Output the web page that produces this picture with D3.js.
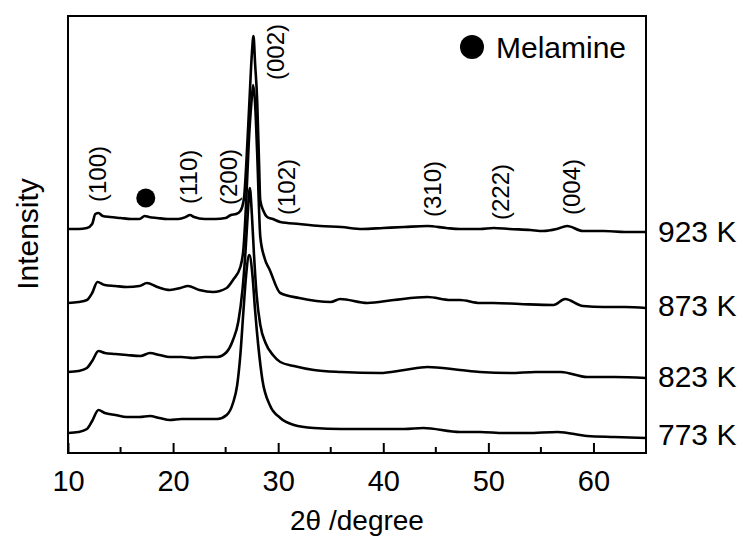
<!DOCTYPE html>
<html>
<head>
<meta charset="utf-8">
<script src="https://cdn.jsdelivr.net/npm/d3@7"></script>
<style>
  body { margin: 0; background: #fff; }
  text { font-family: Arial, "Liberation Sans", sans-serif; fill: #000; }
</style>
</head>
<body>
<div id="chart"></div>
<script>
// 2theta (degree) and intensity (a.u., already stacked)
const theta923 = [10, 11, 11.8, 12.3, 12.6, 12.9, 13.3, 14, 15, 16, 16.8, 17.3, 17.7, 18.5, 19.5, 20.5, 21.2, 21.6, 22, 23, 24, 25, 25.5, 26, 26.4, 26.75, 26.95, 27.27, 27.5, 27.65, 27.8, 28, 28.19, 28.29, 28.6, 28.95, 29.5, 30.2, 32, 34, 36, 38, 40, 42, 44.2, 46, 47.3, 49.2, 50.5, 52, 54, 55.2, 56.5, 57.5, 59, 61, 63, 65];
const int923 = [224, 224, 225, 229, 239, 240, 237, 236, 235, 234, 234, 237, 236, 235, 234, 234, 236, 238, 236, 234, 234, 235, 238, 239, 242, 255, 286, 353, 400, 417, 390, 353, 286, 253, 242, 236, 234, 231, 229, 227, 226, 224, 225, 226, 227, 225, 224, 224, 225, 224, 223, 222, 224, 227, 222, 222, 221, 221];

const theta873 = [10, 11, 11.8, 12.3, 12.8, 13.5, 14.5, 15.6, 16.8, 17.5, 18.5, 19.7, 20.7, 21.4, 22.5, 23.8, 25.1, 25.7, 26.4, 26.7, 26.95, 27.2, 27.45, 27.62, 27.8, 28, 28.3, 28.7, 29.2, 30.2, 32, 35, 35.9, 38.5, 41, 44.2, 46.4, 47.3, 49.2, 50.5, 53, 56.2, 57.3, 59, 61, 63, 65];
const int873 = [150, 151, 153, 160, 171, 168, 167, 166, 167, 170, 166, 163, 165, 167, 163, 161, 165, 173, 186, 205, 250, 310, 350, 368, 350, 300, 216, 195, 183, 160, 155, 151, 154, 150, 153, 156, 153, 153, 150, 150, 149, 148, 154, 147, 146, 146, 145];

const theta823 = [10, 11, 11.8, 12.3, 12.9, 13.5, 14.5, 15.6, 16.9, 17.8, 18.7, 19.7, 20.8, 21.9, 23, 24.2, 25.1, 25.7, 26.2, 26.6, 26.9, 27.1, 27.3, 27.5, 27.7, 27.95, 28.3, 28.8, 29.5, 30.2, 31.5, 33.4, 36, 39.7, 42, 44.2, 47.3, 49.2, 52.1, 54.5, 56.9, 59.4, 62, 65];
const int823 = [81, 82, 85, 92, 102, 100, 99, 98, 97, 100, 98, 96, 96, 95, 96, 96, 101, 113, 131, 163, 203, 238, 265, 238, 198, 158, 128, 110, 98, 91, 87, 83, 81, 80, 83, 86, 83, 81, 80, 81, 81, 76, 76, 75];

const theta773 = [10, 11, 11.8, 12.3, 12.9, 13.5, 14.5, 15.6, 16.8, 17.8, 18.7, 19.7, 20.8, 21.9, 23, 24.2, 25.1, 25.7, 26.1, 26.4, 26.7, 26.95, 27.25, 27.55, 27.8, 28.1, 28.5, 29.2, 30.2, 31.5, 33.4, 36, 39.7, 42, 43.8, 47.3, 49.2, 51.5, 53.7, 56.6, 59.4, 62, 65];
const int773 = [20, 21, 24, 32, 43, 40, 38, 36, 36, 37, 35, 33, 34, 34, 34, 34, 38, 50, 68, 98, 143, 178, 198, 178, 143, 108, 73, 48, 35, 28, 25, 24, 24, 24, 25, 21, 21, 20, 20, 21, 17, 16, 15];

const seriesNames = ['923 K', '873 K', '823 K', '773 K'];
const seriesTheta = [theta923, theta873, theta823, theta773];
const seriesInt = [int923, int873, int823, int773];
const seriesLabelInt = [222, 148, 77, 19];

const xTicks = [10, 20, 30, 40, 50, 60];
const xMinorTicks = [15, 25, 35, 45, 55];

const peakNames = ['(100)', '(110)', '(200)', '(002)', '(102)', '(310)', '(222)', '(004)'];
const peakTheta = [13.6, 22.3, 26.1, 30.6, 31.6, 45.5, 52.0, 58.7];
const peakLabelInt = [251, 249, 248, 373, 238, 236, 233, 238];

const melaminePeak = [17.4];
const melamineInt = [255];

const width = 743;
const height = 538;
const margin = { top: 16, right: 97, bottom: 85, left: 68 };

const svg = d3.select('#chart')
  .append('svg')
    .attr('width', width)
    .attr('height', height);

const x = d3.scaleLinear()
  .domain([10, 65])
  .range([margin.left, width - margin.right]);

const y = d3.scaleLinear()
  .domain([0, 437])
  .range([height - margin.bottom, margin.top]);

// frame
svg.append('rect')
  .attr('x', x(10))
  .attr('y', y(437))
  .attr('width', x(65) - x(10))
  .attr('height', y(0) - y(437))
  .attr('fill', 'none')
  .attr('stroke', '#000')
  .attr('stroke-width', 2);

// x axis
const xAxis = d3.axisBottom(x)
  .tickValues(xTicks)
  .tickSize(-10)
  .tickPadding(17)
  .tickFormat(d3.format('d'));

const gx = svg.append('g')
  .attr('transform', `translate(0, ${y(0)})`)
  .call(xAxis);
gx.select('.domain').remove();
gx.selectAll('.tick line').attr('stroke', '#000').attr('stroke-width', 2);
gx.selectAll('.tick text')
  .style('font-size', '29px')
  .attr('dy', '0.71em');

svg.append('g')
  .selectAll('line')
  .data(xMinorTicks)
  .join('line')
    .attr('x1', d => x(d))
    .attr('x2', d => x(d))
    .attr('y1', y(0))
    .attr('y2', y(0) - 6)
    .attr('stroke', '#000')
    .attr('stroke-width', 2);

svg.append('text')
  .attr('x', x(37.5))
  .attr('y', 530)
  .attr('text-anchor', 'middle')
  .style('font-size', '28px')
  .text('2θ /degree');

svg.append('text')
  .attr('transform', `translate(38, 234) rotate(-90)`)
  .attr('text-anchor', 'middle')
  .style('font-size', '30px')
  .text('Intensity');

// curves
const line = d3.line()
  .x(d => x(d[0]))
  .y(d => y(d[1]))
  .curve(d3.curveMonotoneX);

seriesNames.forEach((name, i) => {
  const pts = seriesTheta[i].map((t, j) => [t, seriesInt[i][j]]);
  svg.append('path')
    .datum(pts)
    .attr('d', line)
    .attr('fill', 'none')
    .attr('stroke', '#000')
    .attr('stroke-width', 2.6)
    .attr('stroke-linejoin', 'round');

  svg.append('text')
    .attr('x', x(65) + 12)
    .attr('y', y(seriesLabelInt[i]))
    .attr('dy', '0.36em')
    .style('font-size', '30px')
    .text(name);
});

// peak labels
svg.append('g')
  .selectAll('text')
  .data(peakNames)
  .join('text')
    .attr('transform', (d, i) => `translate(${x(peakTheta[i])}, ${y(peakLabelInt[i])}) rotate(-90)`)
    .style('font-size', '24px')
    .text(d => d);

svg.append('g')
  .selectAll('circle')
  .data(melaminePeak)
  .join('circle')
    .attr('cx', d => x(d))
    .attr('cy', (d, i) => y(melamineInt[i]))
    .attr('r', 9.5)
    .attr('fill', '#000');

// legend
svg.append('circle')
  .attr('cx', 472)
  .attr('cy', 47)
  .attr('r', 12)
  .attr('fill', '#000');
svg.append('text')
  .attr('x', 496)
  .attr('y', 47)
  .attr('dy', '0.36em')
  .style('font-size', '30px')
  .text('Melamine');
</script>
</body>
</html>
